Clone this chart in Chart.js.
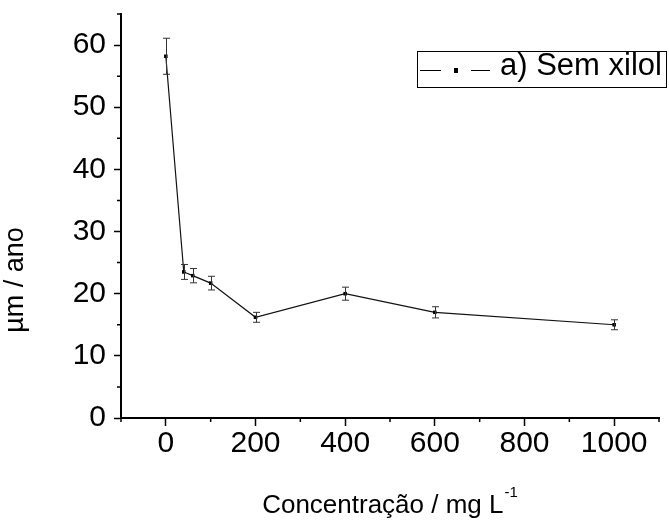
<!DOCTYPE html>
<html>
<head>
<meta charset="utf-8">
<script src="https://cdn.jsdelivr.net/npm/chart.js@4.4.0/dist/chart.umd.min.js"></script>
<style>
  html, body { margin: 0; padding: 0; background: #fff; }
  #wrap { width: 669px; height: 520px; }
</style>
</head>
<body>
<div id="wrap"><canvas id="chart" width="669" height="520"></canvas></div>
<script>
// data
const concentrations = [0, 40, 60, 100, 200, 400, 600, 1000];
const corrosionRate = [58.2, 23.5, 22.9, 21.7, 16.2, 20.0, 17.0, 15.0];
const rateError = [2.9, 1.2, 1.15, 1.1, 0.8, 1.05, 0.9, 0.8];

const xTicks = [0, 200, 400, 600, 800, 1000];
const xMinorTicks = [-100, 100, 300, 500, 700, 900, 1100];
const yTicks = [0, 10, 20, 30, 40, 50, 60];
const yMinorTicks = [5, 15, 25, 35, 45, 55, 65];

const seriesLabel = "a) Sem xilol";
const xTitle = "Concentração / mg L";
const xTitleSup = "-1";
const yTitle = "µm / ano";

const FONT = "'Liberation Sans', Arial, sans-serif";

const errorBars = {
    id: "errorBars",
    afterDatasetsDraw: function (chart) {
        const ctx = chart.ctx;
        const xs = chart.scales.x, ys = chart.scales.y;
        ctx.save();
        ctx.strokeStyle = "#333";
        ctx.lineWidth = 1;
        concentrations.forEach(function (c, i) {
            const px = Math.round(xs.getPixelForValue(c)) + 0.5;
            const top = ys.getPixelForValue(corrosionRate[i] + rateError[i]);
            const bot = ys.getPixelForValue(corrosionRate[i] - rateError[i]);
            ctx.beginPath();
            ctx.moveTo(px, top); ctx.lineTo(px, bot);
            ctx.moveTo(px - 3.5, top); ctx.lineTo(px + 3.5, top);
            ctx.moveTo(px - 3.5, bot); ctx.lineTo(px + 3.5, bot);
            ctx.stroke();
        });
        ctx.restore();
    }
};

const decorations = {
    id: "decorations",
    afterDraw: function (chart) {
        const ctx = chart.ctx;
        const area = chart.chartArea;
        const xs = chart.scales.x, ys = chart.scales.y;
        ctx.save();

        // minor ticks
        ctx.strokeStyle = "#000";
        ctx.lineWidth = 1.5;
        ctx.beginPath();
        xMinorTicks.forEach(function (v) {
            const p = xs.getPixelForValue(v);
            ctx.moveTo(p, area.bottom); ctx.lineTo(p, area.bottom + 4);
        });
        yMinorTicks.forEach(function (v) {
            const p = ys.getPixelForValue(v);
            ctx.moveTo(area.left, p); ctx.lineTo(area.left - 4, p);
        });
        ctx.stroke();

        // legend box
        ctx.lineWidth = 1;
        ctx.strokeStyle = "#000";
        ctx.strokeRect(417.5, 51.5, 249, 36);
        ctx.beginPath();
        ctx.moveTo(420, 70.5); ctx.lineTo(441, 70.5);
        ctx.moveTo(471, 70.5); ctx.lineTo(490, 70.5);
        ctx.stroke();
        ctx.fillStyle = "#000";
        ctx.fillRect(454, 68, 4, 5);
        ctx.font = "31px " + FONT;
        ctx.textBaseline = "alphabetic";
        ctx.textAlign = "left";
        ctx.fillText(seriesLabel, 500, 75);

        // x title with superscript
        ctx.font = "26px " + FONT;
        const wMain = ctx.measureText(xTitle).width;
        ctx.font = "15px " + FONT;
        const wSup = ctx.measureText(xTitleSup).width;
        const cx = (area.left + area.right) / 2;
        const startX = cx - (wMain + wSup + 1) / 2;
        ctx.font = "26px " + FONT;
        ctx.fillText(xTitle, startX, 513);
        ctx.font = "15px " + FONT;
        ctx.fillText(xTitleSup, startX + wMain + 1, 497);

        // y title
        ctx.font = "27px " + FONT;
        ctx.textAlign = "center";
        ctx.textBaseline = "middle";
        ctx.translate(16, 280);
        ctx.rotate(-Math.PI / 2);
        ctx.fillText(yTitle, 0, 0);

        ctx.restore();
    }
};

const points = concentrations.map(function (c, i) {
    return { x: c, y: corrosionRate[i] };
});

new Chart(document.getElementById("chart"), {
    type: "line",
    data: {
        datasets: [{
            label: seriesLabel,
            data: points,
            borderColor: "#111",
            borderWidth: 1.2,
            tension: 0,
            pointStyle: "rect",
            pointRadius: 2.5,
            pointBackgroundColor: "#000",
            pointBorderColor: "#000",
            pointBorderWidth: 0
        }]
    },
    options: {
        responsive: false,
        animation: false,
        devicePixelRatio: 1,
        layout: { padding: { top: 14, right: 10, left: 0, bottom: 0 } },
        plugins: {
            legend: { display: false },
            tooltip: { enabled: false }
        },
        scales: {
            x: {
                type: "linear",
                min: -100,
                max: 1100,
                afterBuildTicks: function (axis) {
                    axis.ticks = xTicks.map(function (v) { return { value: v }; });
                },
                afterFit: function (axis) {
                    axis.height = 102;
                    axis.paddingLeft = 0;
                    axis.paddingRight = 0;
                },
                ticks: {
                    color: "#000",
                    font: { family: FONT, size: 30 },
                    padding: 0,
                    maxRotation: 0,
                    autoSkip: false,
                    callback: function (v) { return String(v); }
                },
                grid: {
                    drawOnChartArea: false,
                    tickLength: 8,
                    tickWidth: 1.5,
                    tickColor: "#000"
                },
                border: { color: "#000", width: 2 }
            },
            y: {
                min: 0,
                max: 65,
                afterBuildTicks: function (axis) {
                    axis.ticks = yTicks.map(function (v) { return { value: v }; });
                },
                afterFit: function (axis) {
                    axis.width = 121;
                    axis.paddingTop = 0;
                    axis.paddingBottom = 0;
                },
                ticks: {
                    color: "#000",
                    font: { family: FONT, size: 30 },
                    padding: 8,
                    callback: function (v) { return String(v); }
                },
                grid: {
                    drawOnChartArea: false,
                    tickLength: 7,
                    tickWidth: 1.5,
                    tickColor: "#000"
                },
                border: { color: "#000", width: 2 }
            }
        }
    },
    plugins: [errorBars, decorations]
});
</script>
</body>
</html>
